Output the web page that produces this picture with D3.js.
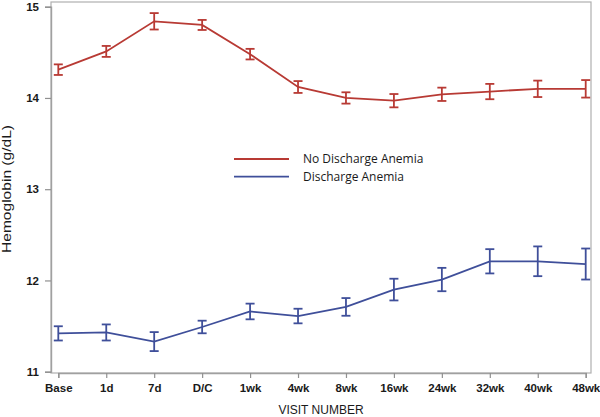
<!DOCTYPE html>
<html><head><meta charset="utf-8">
<script src="https://cdn.jsdelivr.net/npm/d3@7"></script>
<style>body{margin:0;background:#fff;} svg{display:block;}</style>
</head><body>
<svg id="chart" width="600" height="417"></svg>
<script>
const visits = ["Base","1d","7d","D/C","1wk","4wk","8wk","16wk","24wk","32wk","40wk","48wk"];
const noAnemiaMean = [14.31,14.51,14.84,14.80,14.48,14.12,14.00,13.97,14.04,14.07,14.10,14.10];
const noAnemiaErr  = [0.058,0.060,0.090,0.055,0.058,0.065,0.062,0.073,0.073,0.084,0.090,0.096];
const anemiaMean   = [11.42,11.43,11.33,11.49,11.66,11.61,11.71,11.90,12.01,12.21,12.21,12.18];
const anemiaErr    = [0.078,0.088,0.104,0.069,0.086,0.080,0.097,0.119,0.128,0.133,0.163,0.170];
const yTicks = [11,12,13,14,15];
const seriesNames = ["No Discharge Anemia","Discharge Anemia"];
const seriesColors = ["#b83a34","#3f4f9a"];

const svg = d3.select("#chart");
const L = 51, R = 591, T = 2, B = 373;
const x = d3.scalePoint().domain(visits).range([58.3, 585.7]);
const y = d3.scaleLinear().domain([11, 15]).range([371.7, 6.7]);

// frame
svg.append("rect").attr("x", L).attr("y", T).attr("width", R - L).attr("height", B - T)
  .attr("fill", "none").attr("stroke", "#b0b0b0").attr("stroke-width", 1.2);

const axisFont = "Liberation Sans, Arial, sans-serif";
const yAxis = svg.append("g").attr("transform", `translate(${L},0)`)
  .call(d3.axisLeft(y).tickValues(yTicks).tickFormat(d3.format("d")).tickSize(6).tickPadding(6));
const xAxis = svg.append("g").attr("transform", `translate(0,${B})`)
  .call(d3.axisBottom(x).tickSize(5).tickPadding(6));
[yAxis, xAxis].forEach(g => {
  g.select(".domain").attr("stroke", "#a0a0a0").attr("stroke-width", 1.4);
  g.selectAll(".tick line").attr("stroke", "#909090").attr("stroke-width", 1.2);
  g.selectAll(".tick text").attr("fill", "#1a1a1a").attr("font-family", axisFont)
    .attr("font-size", 11.5).attr("font-weight", "bold");
});

svg.append("text").attr("x", 321).attr("y", 414).attr("text-anchor", "middle")
  .attr("font-family", axisFont).attr("font-size", 12).attr("fill", "#1a1a1a")
  .text("VISIT NUMBER");
svg.append("text").attr("transform", "translate(11,189) rotate(-90)").attr("text-anchor", "middle")
  .attr("font-family", axisFont).attr("font-size", 12).attr("fill", "#1a1a1a")
  .attr("textLength", 128).attr("lengthAdjust", "spacingAndGlyphs")
  .text("Hemoglobin (g/dL)");

const series = [
  {mean: noAnemiaMean, err: noAnemiaErr, color: seriesColors[0]},
  {mean: anemiaMean, err: anemiaErr, color: seriesColors[1]}
];
const line = d3.line().x((d, i) => x(visits[i])).y(d => y(d));
series.forEach(s => {
  const g = svg.append("g");
  g.append("path").attr("d", line(s.mean)).attr("fill", "none")
    .attr("stroke", s.color).attr("stroke-width", 1.8);
  const eb = g.selectAll("g.eb").data(s.mean).join("g");
  eb.append("line").attr("x1", (d, i) => x(visits[i])).attr("x2", (d, i) => x(visits[i]))
    .attr("y1", (d, i) => y(d + s.err[i])).attr("y2", (d, i) => y(d - s.err[i]))
    .attr("stroke", s.color).attr("stroke-width", 1.8);
  [1, -1].forEach(sign => {
    eb.append("line").attr("x1", (d, i) => x(visits[i]) - 4.5).attr("x2", (d, i) => x(visits[i]) + 4.5)
      .attr("y1", (d, i) => y(d + sign * s.err[i])).attr("y2", (d, i) => y(d + sign * s.err[i]))
      .attr("stroke", s.color).attr("stroke-width", 1.8);
  });
});

// legend
const leg = svg.append("g");
seriesNames.forEach((n, i) => {
  const yy = 159 + i * 17.7;
  leg.append("line").attr("x1", 234).attr("x2", 289).attr("y1", yy).attr("y2", yy)
    .attr("stroke", seriesColors[i]).attr("stroke-width", 1.8);
  leg.append("text").attr("x", 303).attr("y", yy).attr("dy", "0.35em")
    .attr("font-family", "Open Sans, sans-serif").attr("font-size", 12).attr("fill", "#1a1a1a")
    .text(n);
});
</script>
</body></html>
